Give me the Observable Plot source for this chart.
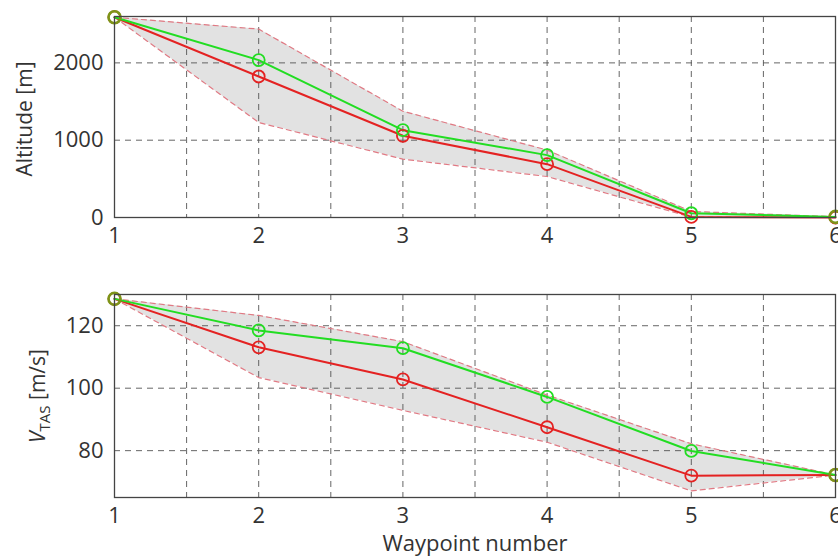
<!DOCTYPE html>
<html><head><meta charset="utf-8">
<script src="https://cdn.jsdelivr.net/npm/d3@7"></script>
<script src="https://cdn.jsdelivr.net/npm/@observablehq/plot@0.6"></script>
<style>
body{margin:0;background:#fff;}
#chart{width:838px;height:558px;overflow:hidden;font-family:"Open Sans",sans-serif;}
svg{display:block;}
</style></head>
<body><div id="chart"></div>
<script>
const waypoints = [1, 2, 3, 4, 5, 6];
// Altitude [m]
const altGreen = [2590, 2036, 1130, 807, 55, 8];
const altRed   = [2590, 1824, 1057, 690, 8, 0];
const altUpper = [2590, 2437, 1375, 872, 78, 10];
const altLower = [2590, 1229, 755, 530, 5, 0];
const altTicks = [0, 1000, 2000];
// V_TAS [m/s]
const vGreen = [128.6, 118.5, 112.8, 97.2, 79.9, 72.2];
const vRed   = [128.6, 113.1, 102.8, 87.5, 72.0, 72.2];
const vUpper = [128.6, 123.3, 114.9, 97.8, 82.2, 72.2];
const vLower = [128.6, 103.4, 92.9, 82.7, 67.1, 72.2];
const vTicks = [80, 100, 120];
const xTicks = [1, 2, 3, 4, 5, 6];
const xGrid = [1, 1.5, 2, 2.5, 3, 3.5, 4, 4.5, 5, 5.5, 6];

const GREEN = "#22dd22", RED = "#e42222", OLIVE = "#7d9418", BAND = "#e2e2e2", EDGE = "#e07a84", GRID = "#555";

function panel(g, r, up, lo, yDomain, yTicks, opts) {
  const rows = waypoints.map((w, i) => ({w, g: g[i], r: r[i], up: up[i], lo: lo[i]}));
  const tol = (yDomain[1] - yDomain[0]) * 0.012;
  return Plot.plot({
    width: 838, height: opts.height,
    marginLeft: 114, marginRight: 3, marginTop: opts.mt, marginBottom: opts.mb,
    style: {fontFamily: "'Open Sans', sans-serif", fontSize: "22px", color: "#333", background: "#fff", overflow: "visible"},
    x: {domain: [1, 6], ticks: xTicks, tickFormat: d3.format("d"), tickSize: 0, tickPadding: 10, label: opts.xlabel, labelAnchor: "center", labelArrow: "none", labelOffset: 53},
    y: {domain: yDomain, ticks: yTicks, tickFormat: d3.format("d"), tickSize: 0, tickPadding: 11, label: null},
    marks: [
      Plot.areaY(rows, {x: "w", y1: "lo", y2: "up", fill: BAND}),
      Plot.ruleX(xGrid, {stroke: GRID, strokeWidth: 0.9, strokeDasharray: "6,5"}),
      Plot.ruleY(yTicks, {stroke: GRID, strokeWidth: 0.9, strokeDasharray: "6,5"}),
      Plot.lineY(rows, {x: "w", y: "up", stroke: EDGE, strokeWidth: 1.2, strokeDasharray: "5,4"}),
      Plot.lineY(rows, {x: "w", y: "lo", stroke: EDGE, strokeWidth: 1.2, strokeDasharray: "5,4"}),
      Plot.lineY(rows, {x: "w", y: "r", stroke: RED, strokeWidth: 2}),
      Plot.lineY(rows, {x: "w", y: "g", stroke: GREEN, strokeWidth: 2}),
      Plot.dot(rows, {x: "w", y: "r", r: 6, stroke: RED, strokeWidth: 1.8, fill: "none"}),
      Plot.dot(rows, {x: "w", y: "g", r: 6, stroke: d => Math.abs(d.g - d.r) < tol ? OLIVE : GREEN, strokeWidth: d => Math.abs(d.g - d.r) < tol ? 2.6 : 1.8, fill: "none"}),
      Plot.frame({stroke: "#444", strokeWidth: 1.3})
    ]
  });
}

const chart = document.getElementById("chart");
const topPanel = panel(altGreen, altRed, altUpper, altLower, [0, 2600], altTicks, {height: 258, mt: 16, mb: 41, xlabel: null});
const botPanel = panel(vGreen, vRed, vUpper, vLower, [65, 130], vTicks, {height: 300, mt: 36, mb: 61, xlabel: "Waypoint number"});
chart.appendChild(topPanel);
chart.appendChild(botPanel);

// y-axis titles
function addYLabel(svg, cx, cy, parts) {
  const ns = "http://www.w3.org/2000/svg";
  const t = document.createElementNS(ns, "text");
  t.setAttribute("transform", `translate(${cx},${cy}) rotate(-90)`);
  t.setAttribute("text-anchor", "middle");
  t.setAttribute("font-size", "21px");
  t.setAttribute("fill", "#333");
  t.setAttribute("font-family", "'Open Sans', sans-serif");
  for (const p of parts) {
    const s = document.createElementNS(ns, "tspan");
    s.textContent = p.text;
    if (p.italic) s.setAttribute("font-style", "italic");
    if (p.sub) { s.setAttribute("font-size", "15px"); s.setAttribute("dy", "5"); }
    if (p.back) s.setAttribute("dy", "-5");
    t.appendChild(s);
  }
  svg.appendChild(t);
}
addYLabel(topPanel, 32, 119, [{text: "Altitude [m]"}]);
addYLabel(botPanel, 45, 138, [{text: "V", italic: true}, {text: "TAS", sub: true}, {text: " [m/s]", back: true}]);
</script>
</body></html>
